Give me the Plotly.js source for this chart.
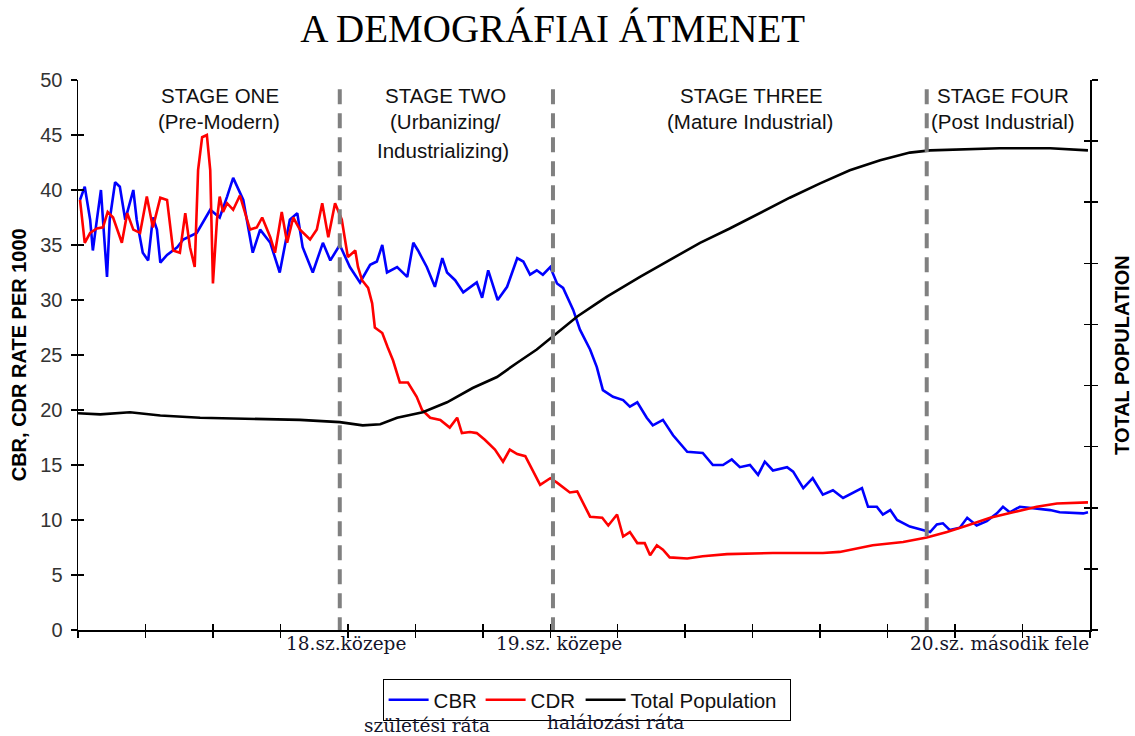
<!DOCTYPE html>
<html>
<head>
<meta charset="utf-8">
<script src="https://cdn.plot.ly/plotly-3.0.1.min.js"></script>
<style>html,body{margin:0;padding:0;background:#fff;}#chart{width:1135px;height:736px;}</style>
</head>
<body>
<div id="chart"></div>
<script>
// ---- data (x in arbitrary time units 0..150) ----
const cbrX = [0.3,1.0,1.8,2.2,2.8,3.4,3.7,4.3,4.7,5.5,6.2,7.0,7.4,8.2,8.7,9.6,10.4,11.1,11.7,12.2,13.2,14.7,15.6,17.6,19.6,21.0,22.1,23.0,24.5,25.9,27.0,28.5,29.9,31.4,32.5,33.3,34.8,36.3,37.4,38.8,40.3,41.8,43.3,44.3,45.1,45.8,47.3,48.8,49.7,50.4,51.7,52.9,54.0,54.7,55.9,57.1,59.1,59.9,60.8,62.2,63.6,65.1,66.0,67.0,68.0,68.9,70.0,71.0,71.9,73.4,74.4,75.9,76.9,77.8,79.3,80.8,81.8,82.9,84.3,85.2,86.7,88.2,90.3,92.6,94.1,95.6,96.9,98.1,99.6,100.8,101.8,103.0,105.1,106.0,107.5,108.9,110.4,111.9,113.4,114.9,116.2,117.1,118.4,119.3,120.4,121.4,123.3,125.2,126.3,127.3,128.2,129.2,130.7,131.8,133.2,134.7,136.2,137.1,138.1,139.6,141.1,144.1,145.5,149.0,149.7];
const cbrY = [39.1,40.3,37.3,34.5,37.3,40.0,37.3,32.1,37.3,40.7,40.3,37.3,38.2,40.0,37.3,34.3,33.6,37.5,36.4,33.4,34.1,34.8,35.5,36.1,38.2,37.5,39.4,41.1,39.1,34.3,36.4,35.2,32.5,37.3,37.9,34.8,32.5,35.2,33.6,35.0,33.0,31.6,33.2,33.5,35.0,32.5,33.0,32.1,35.2,34.5,33.0,31.2,33.8,32.5,31.8,30.7,31.6,30.2,32.7,30.0,31.2,33.8,33.5,32.3,32.7,32.3,33.0,31.5,31.1,29.1,27.3,25.5,23.9,21.8,21.2,20.9,20.3,20.7,19.3,18.6,19.1,17.7,16.2,16.1,15.0,15.0,15.5,14.8,15.0,14.1,15.3,14.5,14.8,14.4,12.9,13.8,12.3,12.7,12.0,12.5,12.9,11.2,11.2,10.5,10.9,10.0,9.4,9.1,8.9,9.6,9.7,9.1,9.3,10.2,9.5,9.9,10.6,11.2,10.7,11.2,11.1,10.9,10.7,10.6,10.7];

const cdrX = [0.3,1.0,1.8,2.8,3.7,4.4,5.2,6.5,7.3,8.2,9.2,10.2,11.1,12.2,13.2,14.1,15.1,15.9,16.6,17.3,17.8,18.4,19.1,19.6,20.0,20.6,21.0,21.5,22.1,23.0,24.0,25.5,26.5,27.3,28.5,29.2,30.2,31.0,31.9,32.9,34.4,35.4,36.2,37.1,38.1,39.1,40.0,41.1,41.5,42.1,43.0,43.6,44.0,45.1,45.9,46.7,47.7,48.9,50.2,51.0,52.2,53.7,55.1,56.2,56.9,58.1,59.1,60.3,61.8,63.0,64.0,65.1,66.3,67.4,68.5,70.0,71.0,72.9,74.0,75.9,77.7,78.6,79.9,80.8,81.8,82.9,84.0,84.8,85.8,86.7,87.7,90.3,92.6,96.2,103.0,110.4,112.9,117.8,122.3,125.8,128.8,131.8,135.2,138.6,142.1,145.1,149.7];
const cdrY = [39.1,35.2,36.1,36.5,36.6,38.0,37.5,35.2,37.9,36.4,36.1,39.4,36.6,39.3,39.1,34.5,34.3,37.9,34.8,33.0,41.8,44.8,45.0,41.8,31.5,37.3,39.4,38.0,38.8,38.2,39.5,36.4,36.6,37.5,35.7,34.3,38.0,35.2,37.5,36.4,35.5,36.4,38.8,35.7,38.8,37.3,33.9,34.5,33.0,31.8,31.1,29.7,27.5,27.0,25.7,24.5,22.5,22.5,21.2,20.0,19.3,19.1,18.4,19.3,17.9,18.0,17.9,17.3,16.4,15.3,16.4,16.0,15.8,14.5,13.2,13.8,13.4,12.5,12.6,10.3,10.2,9.5,10.5,8.5,8.9,7.9,7.9,6.8,7.7,7.3,6.6,6.5,6.7,6.9,7.0,7.0,7.1,7.7,8.0,8.4,8.9,9.5,10.2,10.7,11.2,11.5,11.6];

const popX = [0,3.3,7.7,12.2,18.1,25.5,32.9,38.8,42.2,44.8,47.3,51.1,54.7,58.5,62.1,65.1,68.0,71.0,74.0,76.9,78.4,83.3,87.7,92.2,96.6,101.1,105.5,110.0,114.4,118.9,123.3,126.3,130.7,136.6,144.1,147.0,149.7];
const popY = [19.7,19.6,19.8,19.5,19.3,19.2,19.1,18.9,18.6,18.7,19.3,19.8,20.7,22.0,23.0,24.3,25.5,27.0,28.5,29.7,30.3,32.1,33.6,35.2,36.5,37.9,39.3,40.6,41.8,42.7,43.4,43.6,43.7,43.8,43.8,43.7,43.6];

const seriesNames = ["CBR", "CDR", "Total Population"];
const stageBoundaries = [38.8, 70.4, 125.8];
const stageLines = [
  ["STAGE ONE", 21.0, 48.6], ["(Pre-Modern)", 20.9, 46.2],
  ["STAGE TWO", 54.5, 48.6], ["(Urbanizing/", 54.5, 46.2], ["Industrializing)", 54.1, 43.6],
  ["STAGE THREE", 99.9, 48.6], ["(Mature Industrial)", 99.6, 46.2],
  ["STAGE FOUR", 137.1, 48.6], ["(Post Industrial)", 137.1, 46.2]
];
const eraLabels = [["18.sz.közepe", 39.7], ["19.sz. közepe", 71.3], ["20.sz. második fele", 136.6]];
const legendNotes = [["születési ráta", 0.345, -0.173], ["halálozási ráta", 0.531, -0.169]];
const leftTicks = [0,5,10,15,20,25,30,35,40,45,50];
const xTicks = [0,10,20,30,40,50,60,70,80,90,100,110,120,130,140,150];
const rightTicks = [0,1,2,3,4,5,6,7,8,9].map(k => k * 50 / 9);

// ---- chart ----
const traces = [
  {x: cbrX, y: cbrY, name: seriesNames[0], mode: 'lines', line: {color: '#0000ff', width: 2.6}, xaxis: 'x', yaxis: 'y', legendwidth: 42},
  {x: cdrX, y: cdrY, name: seriesNames[1], mode: 'lines', line: {color: '#ff0000', width: 2.6}, xaxis: 'x', yaxis: 'y', legendwidth: 45},
  {x: popX, y: popY, name: seriesNames[2], mode: 'lines', line: {color: '#000000', width: 2.6}, xaxis: 'x', yaxis: 'y2', legendwidth: 154},
  {x: [], y: [], xaxis: 'x2', yaxis: 'y3', showlegend: false, hoverinfo: 'skip'},
  {x: [], y: [], xaxis: 'x2', yaxis: 'y4', showlegend: false, hoverinfo: 'skip'}
];

const tickFont = {family: 'Liberation Sans, Arial, sans-serif', size: 20, color: '#333'};
const annotations = [];
stageLines.forEach(s => annotations.push({
  text: s[0], x: s[1], y: s[2], xref: 'x', yref: 'y', showarrow: false,
  xanchor: 'center', yanchor: 'middle',
  font: {family: 'Liberation Sans, Arial, sans-serif', size: 20.5, color: '#111'}
}));
eraLabels.forEach(e => annotations.push({
  text: e[0], x: e[1], y: -0.024, xref: 'x', yref: 'paper', showarrow: false,
  xanchor: 'center', yanchor: 'middle',
  font: {family: 'DejaVu Serif, serif', size: 18.5, color: '#14142a'}
}));
legendNotes.forEach(n => annotations.push({
  text: n[0], x: n[1], y: n[2], xref: 'paper', yref: 'paper', showarrow: false,
  xanchor: 'center', yanchor: 'middle',
  font: {family: 'DejaVu Serif, serif', size: 18.5, color: '#14142a'}
}));
annotations.push({text: 'CBR, CDR RATE PER 1000', x: -0.058, y: 0.5, xref: 'paper', yref: 'paper',
  textangle: -90, showarrow: false, xanchor: 'center', yanchor: 'middle',
  font: {family: 'Liberation Sans, Arial, sans-serif', size: 20, color: '#000', weight: 'bold'}});
annotations.push({text: 'TOTAL POPULATION', x: 1.0316, y: 0.5, xref: 'paper', yref: 'paper',
  textangle: -90, showarrow: false, xanchor: 'center', yanchor: 'middle',
  font: {family: 'Liberation Sans, Arial, sans-serif', size: 20, color: '#000', weight: 'bold'}});

const shapes = stageBoundaries.map(b => ({
  type: 'line', xref: 'x', yref: 'y', x0: b, x1: b, y0: -0.2, y1: 49.2,
  line: {color: '#808080', width: 4, dash: '15px,9px'}, layer: 'above'
}));

const axisCommon = {showgrid: false, zeroline: false, linecolor: '#000', linewidth: 1.5,
  tickcolor: '#000', tickwidth: 1.5, ticklen: 6};

const layout = {
  width: 1135, height: 736,
  margin: {l: 78, r: 45, t: 80, b: 106},
  paper_bgcolor: '#fff', plot_bgcolor: '#fff',
  title: {text: 'A DEMOGRÁFIAI ÁTMENET', x: 0.487, xref: 'container', xanchor: 'center',
    y: 0.962, yref: 'container', yanchor: 'middle',
    font: {family: 'Liberation Serif, Times New Roman, serif', size: 39, color: '#000'}},
  xaxis: Object.assign({}, axisCommon, {range: [0, 150], tickvals: xTicks, showticklabels: false,
    ticks: 'outside', showline: true}),
  yaxis: Object.assign({}, axisCommon, {range: [0, 50], tickvals: leftTicks, ticks: 'outside',
    showline: true, tickfont: tickFont, ticklabelstandoff: 4}),
  yaxis2: Object.assign({}, axisCommon, {range: [0, 50], tickvals: rightTicks, ticks: 'outside',
    showline: true, showticklabels: false, overlaying: 'y', side: 'right', anchor: 'x'}),
  xaxis2: Object.assign({}, axisCommon, {range: [0, 150], tickvals: xTicks, showticklabels: false,
    ticks: 'inside', showline: false, overlaying: 'x', anchor: 'y', side: 'bottom'}),
  yaxis3: Object.assign({}, axisCommon, {range: [0, 50], tickvals: leftTicks, ticks: 'inside',
    showline: false, showticklabels: false, overlaying: 'y', side: 'left', anchor: 'x2'}),
  yaxis4: Object.assign({}, axisCommon, {range: [0, 50], tickvals: rightTicks, ticks: 'inside',
    showline: false, showticklabels: false, overlaying: 'y', side: 'right', anchor: 'x2'}),
  showlegend: true,
  legend: {orientation: 'h', x: 0.301, y: -0.089, xanchor: 'left', yanchor: 'top',
    bordercolor: '#000', borderwidth: 1, bgcolor: '#fff',
    font: {family: 'Liberation Sans, Arial, sans-serif', size: 20.5, color: '#111'},
    itemwidth: 40, tracegroupgap: 0},
  annotations: annotations,
  shapes: shapes
};

Plotly.newPlot('chart', traces, layout, {displayModeBar: false, staticPlot: true});
</script>
</body>
</html>
